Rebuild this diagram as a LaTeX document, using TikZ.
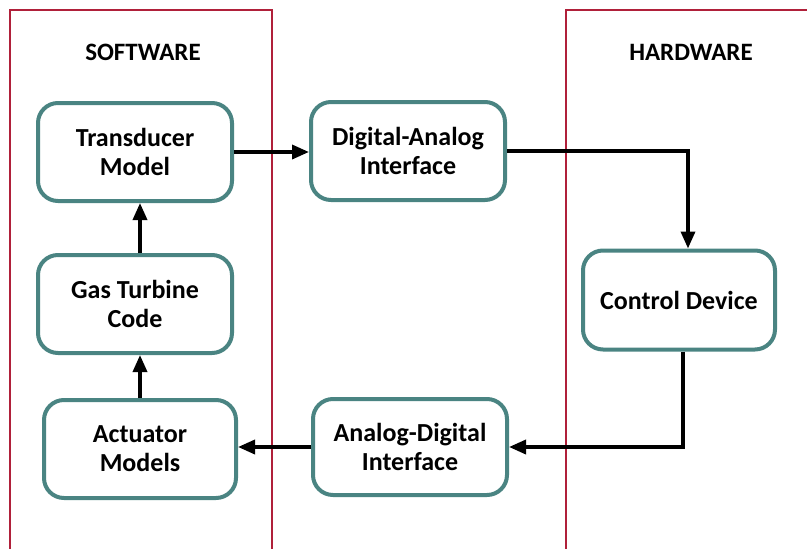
\documentclass[tikz,border=0pt]{standalone}
\usepackage{fontspec}
\setmainfont{Carlito}
\usetikzlibrary{arrows.meta}
\definecolor{boxteal}{HTML}{4A8482}
\definecolor{panelred}{HTML}{B0203A}
\tikzstyle{block}=[draw=boxteal,line width=4pt,rounded corners=20pt,fill=white,align=center,font=\fontsize{26}{29}\selectfont\bfseries,inner sep=0pt]
\tikzstyle{panel}=[draw=panelred,line width=1.2pt]
\tikzstyle{title}=[font=\fontsize{25}{28}\selectfont\bfseries]
\tikzstyle{arr}=[line width=3.5pt,-{Triangle[length=17pt,width=14pt]}]

\begin{document}
\begin{tikzpicture}[x=1pt,y=-1pt]
    \useasboundingbox (0,0) rectangle (807,549);
    \draw[panel] (10,10) rectangle (272,560);
    \draw[panel] (566,10) rectangle (830,560);
    \node[title] (sw) at (143,52) {SOFTWARE};
    \node[title] (hw) at (691,52) {HARDWARE};

    \node[block,minimum width=194pt,minimum height=98pt] (trans) at (135,152) {Transducer\\Model};
    \node[block,minimum width=194pt,minimum height=98pt] (gas) at (135,304) {Gas Turbine\\Code};
    \node[block,minimum width=192pt,minimum height=98pt] (act) at (140,449) {Actuator\\Models};
    \node[block,minimum width=194pt,minimum height=98pt] (da) at (408,151) {Digital-Analog\\Interface};
    \node[block,minimum width=194pt,minimum height=96pt] (ad) at (410,447) {Analog-Digital\\Interface};
    \node[block,minimum width=192pt,minimum height=99pt] (ctrl) at (679,300) {Control Device};

    \coordinate (up) at (140,0);

    \draw[arr] (trans.east) -- (trans.east -| da.west);
    \draw[arr] (da.east) -| ([xshift=9pt]ctrl.north);
    \draw[arr] ([xshift=4pt]ctrl.south) |- (ad.east);
    \draw[arr] (ad.west) -- (ad.west -| act.east);
    \foreach \from/\to in {act/gas,gas/trans}
    \draw[arr] (\from.north -| up) -- (\to.south -| up);
\end{tikzpicture}
\end{document}
